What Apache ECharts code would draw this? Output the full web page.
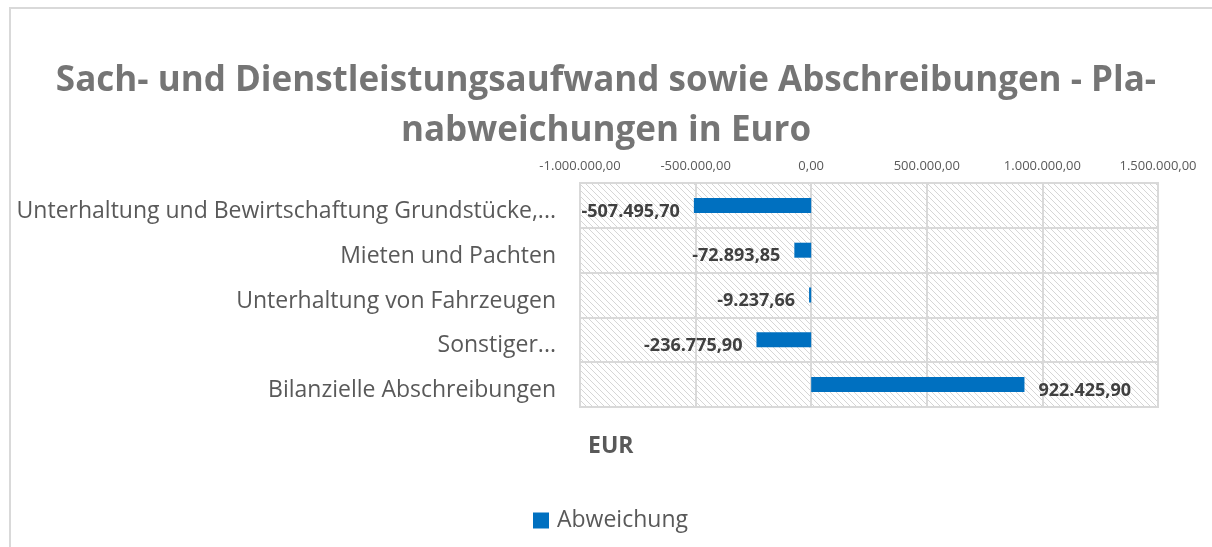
<!DOCTYPE html>
<html>
<head>
<meta charset="utf-8">
<script src="https://cdn.jsdelivr.net/npm/echarts@6/dist/echarts.min.js"></script>
<style>
  html, body { margin: 0; padding: 0; background: #fff; }
  #chart { width: 1212px; height: 547px; }
</style>
</head>
<body>
<div id="chart"></div>
<script>
// data
const categories = [
  'Unterhaltung und Bewirtschaftung Grundstücke,...',
  'Mieten und Pachten',
  'Unterhaltung von Fahrzeugen',
  'Sonstiger...',
  'Bilanzielle Abschreibungen'
]
const abweichung = [-507495.70, -72893.85, -9237.66, -236775.90, 922425.90]
const xTicks = [-1000000, -500000, 0, 500000, 1000000, 1500000]

const FONT = '"Open Sans", "Noto Sans", sans-serif'

// 1.234.567,89
const fmt = (v) => {
  const neg = v < 0
  const parts = Math.abs(v).toFixed(2).split('.')
  const int = parts[0].replace(/\B(?=(\d{3})+(?!\d))/g, '.')
  return (neg ? '-' : '') + int + ',' + parts[1]
}

// schraffur für den plotbereich
const makeHatch = () => {
  const c = document.createElement('canvas')
  c.width = 6
  c.height = 6
  const ctx = c.getContext('2d')
  ctx.fillStyle = '#ffffff'
  ctx.fillRect(0, 0, 6, 6)
  ctx.strokeStyle = '#d6d6d6'
  ctx.lineWidth = 1
  ;[-6, 0, 6].forEach((o) => {
    ctx.beginPath()
    ctx.moveTo(o, 0)
    ctx.lineTo(o + 6, 6)
    ctx.stroke()
  })
  return c
}

const chart = echarts.init(document.getElementById('chart'))

const option = {
  backgroundColor: '#fff',
  animation: false,
  title: [
    {
      text: 'Sach- und Dienstleistungsaufwand sowie Abschreibungen - Pla-\nnabweichungen in Euro',
      left: 'center',
      top: 51,
      textStyle: {
        fontFamily: FONT,
        fontSize: 35,
        fontWeight: 'bold',
        color: '#757575',
        lineHeight: 50
      }
    },
    {
      text: 'EUR',
      left: 583,
      top: 430,
      textStyle: { fontFamily: FONT, fontSize: 23, fontWeight: 'bold', color: '#595959' }
    }
  ],
  graphic: [
    {
      type: 'rect',
      shape: { x: 10, y: 8, width: 1230, height: 600 },
      style: { fill: 'none', stroke: '#d9d9d9', lineWidth: 2 },
      silent: true
    }
  ],
  legend: {
    bottom: 10,
    left: 528,
    itemWidth: 16,
    itemHeight: 16,
    icon: 'rect',
    textStyle: { fontFamily: FONT, fontSize: 23, color: '#595959', padding: [0, 0, 0, 3] },
    data: ['Abweichung']
  },
  grid: {
    left: 580,
    right: 54,
    top: 183,
    bottom: 140,
    show: true,
    backgroundColor: { image: makeHatch(), repeat: 'repeat' },
    borderColor: '#d9d9d9',
    borderWidth: 2
  },
  xAxis: {
    type: 'value',
    position: 'top',
    min: xTicks[0],
    max: xTicks[xTicks.length - 1],
    interval: xTicks[1] - xTicks[0],
    axisLine: { show: false },
    axisTick: { show: false },
    axisLabel: {
      fontFamily: FONT,
      fontSize: 13,
      color: '#595959',
      margin: 10,
      formatter: (v) => fmt(v)
    },
    splitLine: { lineStyle: { color: '#d9d9d9', width: 2 } }
  },
  yAxis: {
    type: 'category',
    inverse: true,
    data: categories,
    axisLine: { show: false },
    axisTick: { show: false },
    axisLabel: {
      margin: 24,
      formatter: (v) => '{c|' + v + '}',
      rich: {
        c: {
          fontFamily: FONT,
          fontSize: 23,
          color: '#595959',
          padding: [12, 0, 0, 0]
        }
      }
    },
    splitLine: { show: true, lineStyle: { color: '#d9d9d9', width: 2 } }
  },
  series: [
    {
      name: 'Abweichung',
      type: 'bar',
      barWidth: 15,
      itemStyle: { color: '#0070c0' },
      label: {
        show: true,
        fontFamily: FONT,
        fontSize: 18,
        fontWeight: 'bold',
        color: '#404040',
        distance: 14,
        offset: [0, 6],
        formatter: (p) => fmt(p.value)
      },
      data: abweichung.map((v) => ({
        value: v,
        label: { position: v < 0 ? 'left' : 'right' }
      }))
    }
  ]
}

chart.setOption(option)
</script>
</body>
</html>
